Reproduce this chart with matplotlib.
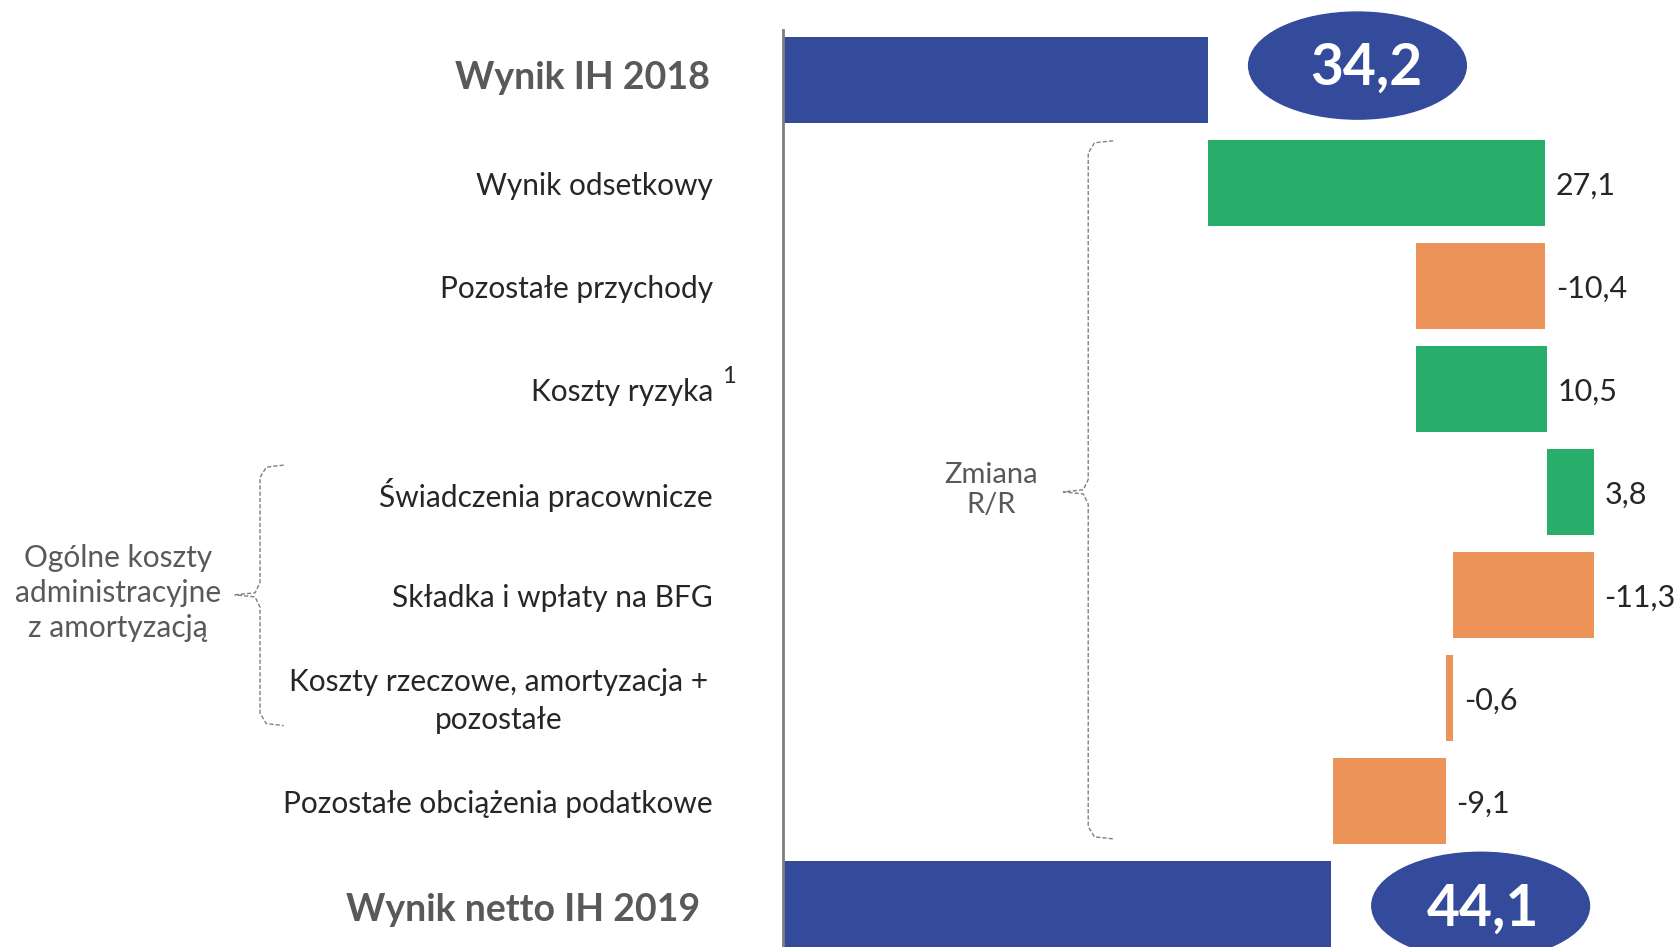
import numpy as np
import matplotlib.pyplot as plt
from matplotlib.patches import Ellipse

plt.rcParams['font.family'] = ['Lato', 'DejaVu Sans']

labels = ["Wynik IH 2018", "Wynik odsetkowy", "Pozostałe przychody", "Koszty ryzyka",
          "Świadczenia pracownicze", "Składka i wpłaty na BFG",
          "Koszty rzeczowe, amortyzacja +\npozostałe",
          "Pozostałe obciążenia podatkowe", "Wynik netto IH 2019"]
start_value = 34.2
changes = [27.1, -10.4, 10.5, 3.8, -11.3, -0.6, -9.1]
end_value = 44.1
change_labels = ["27,1", "-10,4", "10,5", "3,8", "-11,3", "-0,6", "-9,1"]
total_labels = ["34,2", "44,1"]

blue = "#344a9a"
green = "#29ad6a"
orange = "#ec935a"
grey_txt = "#595959"
dark_txt = "#262626"

fig = plt.figure(figsize=(16.76, 9.47), dpi=100)
ax = fig.add_axes([0, 0, 1, 1])
ax.set_xlim(-62.9, 71.8)
ax.set_ylim(8.42, -0.777)
ax.axis("off")

h = 0.84
# totals
ax.barh(0, start_value, height=h, color=blue)
ax.barh(8, end_value, height=h, color=blue)

# waterfall steps
cum = np.concatenate([[start_value], start_value + np.cumsum(changes)])
for i, c in enumerate(changes):
    right = max(cum[i], cum[i + 1])
    ax.barh(i + 1, c, left=cum[i], height=h, color=green if c > 0 else orange)
    ax.text(right + 0.85, i + 1.03, change_labels[i], ha="left", va="center",
            fontsize=22, color=dark_txt)

# category labels
for i, lab in enumerate(labels):
    if i in (0, 8):
        ax.text(-5.8 if i == 0 else -6.6, i - 0.02 if i == 0 else i + 0.06, lab,
                ha="right", va="center", fontsize=27, fontweight="bold", color=grey_txt)
    elif i == 6:
        ax.text(-22.8, i + 0.03, lab, ha="center", va="center", fontsize=21.5,
                color=dark_txt, linespacing=1.45, multialignment="center")
    else:
        ax.text(-5.6, i + 0.03, lab, ha="right", va="center", fontsize=21.5,
                color=dark_txt)
ax.text(-4.9, 2.88, "1", ha="left", va="center", fontsize=17, color=dark_txt)

# ellipses with totals
for row, val, txt, dx in [(-0.14, start_value, total_labels[0], 0.7),
                          (8.02, end_value, total_labels[1], 0.2)]:
    ax.add_patch(Ellipse((val + 12.0, row), 17.5, 1.04, color=blue, zorder=3))
    ax.text(val + 12.0 + dx, row + 0.03, txt, ha="center", va="center", fontsize=41,
            fontweight="bold", color="white", zorder=4)

# axis line
ax.plot([0, 0], [-0.49, 8.42], color="#7f7f7f", lw=2, zorder=5)


def brace(x, y0, y1, ym, arm, tip):
    k = 0.12
    xs = [x + arm, x + 0.5, x, x, x - 0.4, x - tip, x - 0.4, x, x, x + 0.5, x + arm]
    ys = [y0, y0 + 0.02, y0 + k, ym - k, ym - 0.02, ym, ym + 0.02, ym + k, y1 - k, y1 - 0.02, y1]
    ax.plot(xs, ys, color="#808080", lw=1, ls=(0, (3, 1.5)))


brace(24.56, 0.59, 7.37, 4.0, 2.0, 2.0)
brace(-42.0, 3.74, 6.27, 5.0, 1.9, 2.0)

ax.text(16.76, 3.98, "Zmiana\nR/R", ha="center", va="center", fontsize=21,
        color=grey_txt, linespacing=1.2)
ax.text(-53.4, 4.98, "Ogólne koszty\nadministracyjne\nz amortyzacją", ha="center",
        va="center", fontsize=21.5, color=grey_txt, linespacing=1.3)

fig.savefig("out.png", dpi=100)
